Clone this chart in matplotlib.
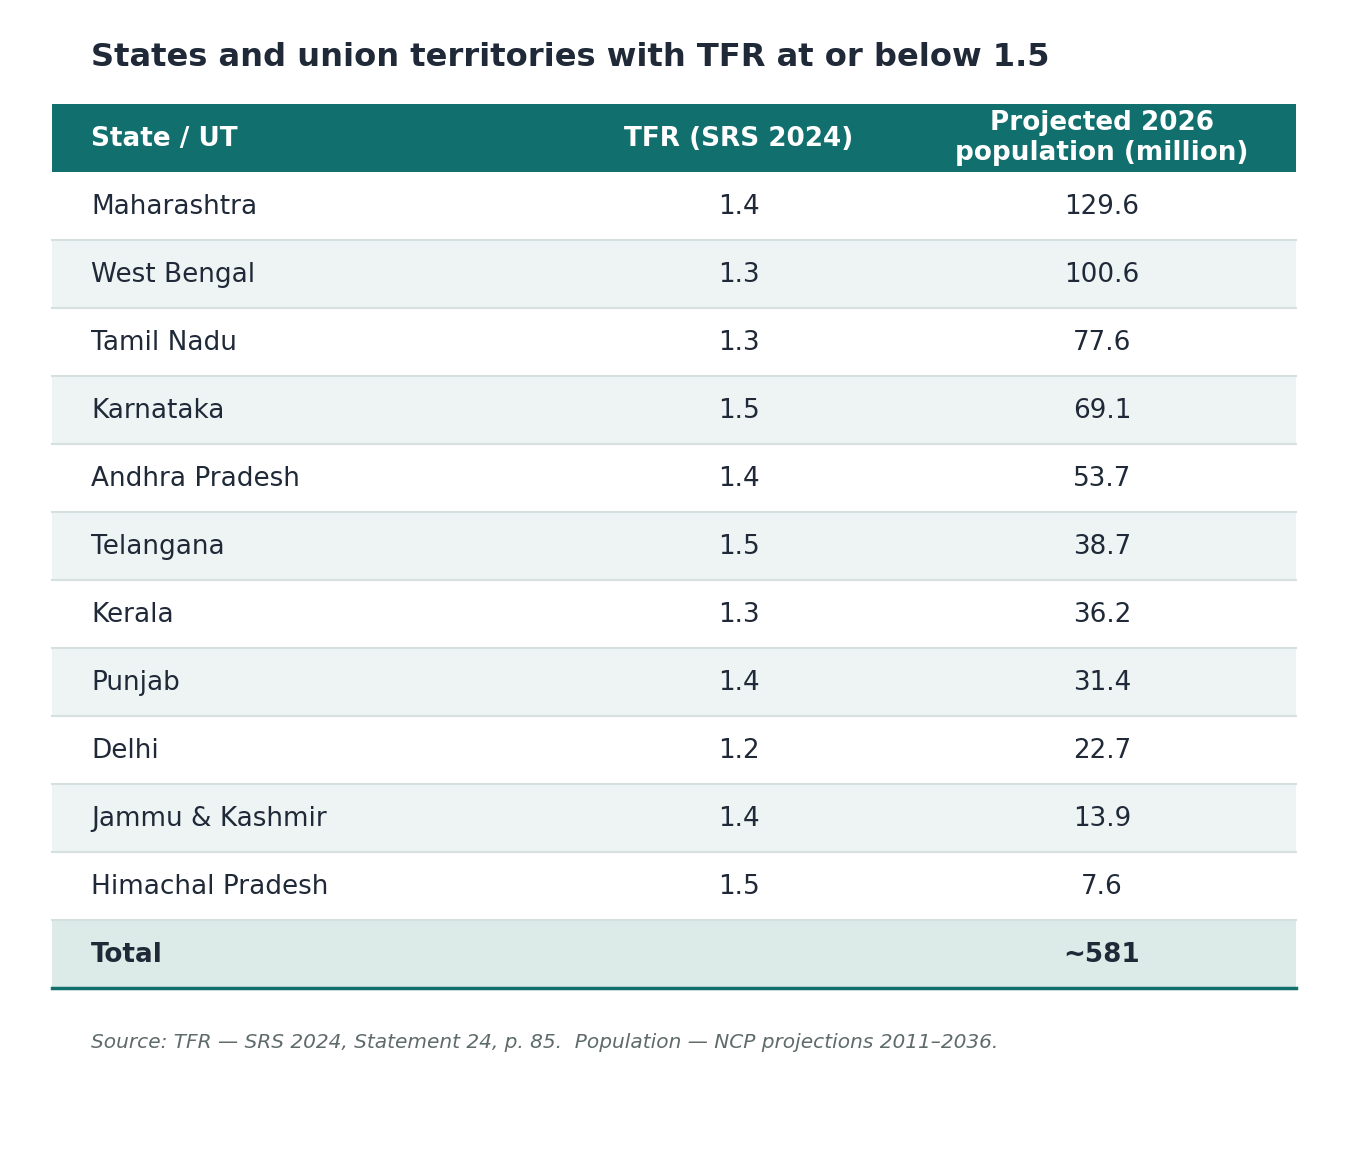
import matplotlib.pyplot as plt
from matplotlib.patches import Rectangle

states = ["Maharashtra", "West Bengal", "Tamil Nadu", "Karnataka", "Andhra Pradesh",
          "Telangana", "Kerala", "Punjab", "Delhi", "Jammu & Kashmir", "Himachal Pradesh"]
tfr = [1.4, 1.3, 1.3, 1.5, 1.4, 1.5, 1.3, 1.4, 1.2, 1.4, 1.5]
pop = [129.6, 100.6, 77.6, 69.1, 53.7, 38.7, 36.2, 31.4, 22.7, 13.9, 7.6]
headers = ["State / UT", "TFR (SRS 2024)", "Projected 2026\npopulation (million)"]
total_label = "Total"
total_pop = "~581"

title = "States and union territories with TFR at or below 1.5"
source = "Source: TFR \u2014 SRS 2024, Statement 24, p. 85.  Population \u2014 NCP projections 2011\u20132036."

teal = "#11706e"
dark = "#1f2937"
zebra = "#eef4f4"
total_bg = "#ddebe8"
divider = "#d6e0e0"

W, H = 1348, 1159
fig = plt.figure(figsize=(W / 100, H / 100), dpi=100)
ax = fig.add_axes([0, 0, 1, 1])
ax.set_xlim(0, W)
ax.set_ylim(H, 0)
ax.axis("off")

left, right = 52, 1296
top = 104
rh = 68
x_name, x_tfr, x_pop = 91, 739, 1102

ax.text(x_name, 58, title, fontsize=23.1, fontweight="bold", color=dark, va="center", ha="left")

# header
ax.add_patch(Rectangle((left, top), right - left, rh, color=teal, lw=0))
hy = top + rh / 2
ax.text(x_name, hy + 1, headers[0], fontsize=18.9, fontweight="bold", color="white", va="center", ha="left")
ax.text(x_tfr, hy + 1, headers[1], fontsize=18.9, fontweight="bold", color="white", va="center", ha="center")
ax.text(x_pop, hy, headers[2], fontsize=18.9, fontweight="bold", color="white", va="center",
        ha="center", linespacing=1.15)

for i, (s, t, p) in enumerate(zip(states, tfr, pop)):
    y0 = top + rh * (i + 1)
    if i % 2 == 1:
        ax.add_patch(Rectangle((left, y0), right - left, rh, color=zebra, lw=0))
    if i > 0:
        ax.plot([left, right], [y0, y0], color=divider, lw=1.5)
    yc = y0 + rh / 2 + 1
    ax.text(x_name, yc, s, fontsize=18.9, color=dark, va="center", ha="left")
    ax.text(x_tfr, yc, f"{t:.1f}", fontsize=18.9, color=dark, va="center", ha="center")
    ax.text(x_pop, yc, f"{p:.1f}", fontsize=18.9, color=dark, va="center", ha="center")

# total row
y0 = top + rh * (len(states) + 1)
ax.add_patch(Rectangle((left, y0), right - left, rh, color=total_bg, lw=0))
ax.plot([left, right], [y0, y0], color=divider, lw=1.5)
ax.plot([left, right], [y0 + rh, y0 + rh], color=teal, lw=2.5)
yc = y0 + rh / 2 + 1
ax.text(x_name, yc, total_label, fontsize=18.9, fontweight="bold", color=dark, va="center", ha="left")
ax.text(x_pop, yc, total_pop, fontsize=18.9, fontweight="bold", color=dark, va="center", ha="center")

ax.text(x_name, 1042, source, fontsize=14.5, style="italic", color="#5f6b6b", va="center", ha="left")

fig.savefig("out.png", dpi=100, facecolor="white")
